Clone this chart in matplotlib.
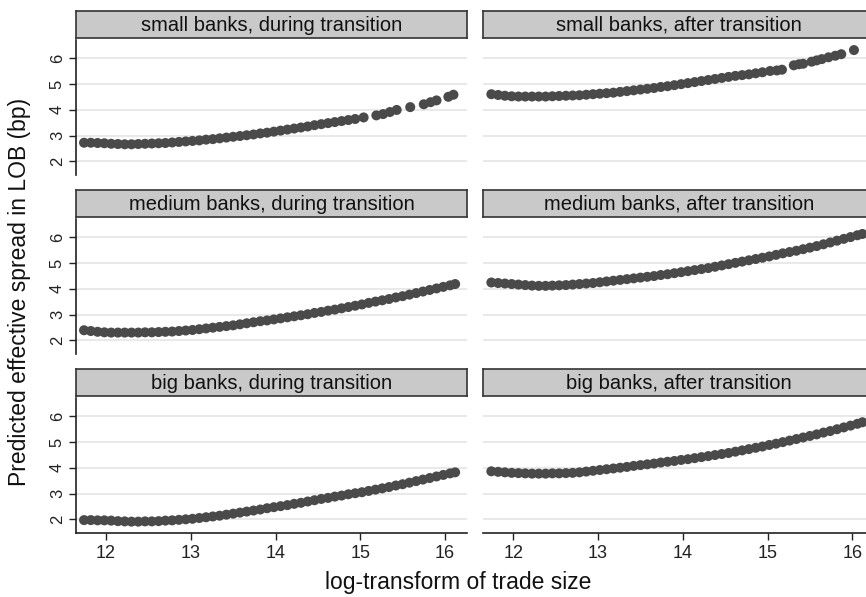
import numpy as np
import matplotlib.pyplot as plt

plt.rcParams['font.family'] = ['Liberation Sans', 'DejaVu Sans']

W, H = 866, 597

titles = [["small banks, during transition", "small banks, after transition"],
          ["medium banks, during transition", "medium banks, after transition"],
          ["big banks, during transition", "big banks, after transition"]]
y_ticks = [2, 3, 4, 5, 6]
x_ticks = [12, 13, 14, 15, 16]

# log trade size grid shared by the medium / big bank panels
size_dense = [11.74, 11.82, 11.90, 11.98, 12.06, 12.14, 12.22, 12.30, 12.38, 12.46,
              12.54, 12.62, 12.70, 12.78, 12.86, 12.94, 13.02, 13.10, 13.18, 13.26,
              13.34, 13.42, 13.50, 13.58, 13.66, 13.74, 13.82, 13.90, 13.98, 14.06,
              14.14, 14.22, 14.30, 14.38, 14.46, 14.54, 14.62, 14.70, 14.78, 14.86,
              14.94, 15.02, 15.10, 15.18, 15.26, 15.34, 15.42, 15.50, 15.58, 15.66,
              15.74, 15.82, 15.90, 15.98, 16.06, 16.12]

medium_during = [2.39, 2.36, 2.33, 2.31, 2.30, 2.30, 2.30, 2.30, 2.30, 2.31,
                 2.31, 2.32, 2.33, 2.34, 2.36, 2.38, 2.40, 2.43, 2.46, 2.49,
                 2.52, 2.55, 2.58, 2.62, 2.66, 2.70, 2.74, 2.77, 2.81, 2.85,
                 2.89, 2.93, 2.97, 3.01, 3.06, 3.10, 3.15, 3.19, 3.24, 3.29,
                 3.34, 3.39, 3.45, 3.50, 3.55, 3.60, 3.66, 3.71, 3.77, 3.83,
                 3.89, 3.95, 4.01, 4.07, 4.13, 4.18]
medium_after = [4.24, 4.22, 4.20, 4.18, 4.16, 4.14, 4.12, 4.11, 4.11, 4.12,
                4.13, 4.14, 4.16, 4.18, 4.20, 4.22, 4.25, 4.28, 4.31, 4.34,
                4.37, 4.40, 4.43, 4.46, 4.49, 4.53, 4.56, 4.60, 4.64, 4.68,
                4.72, 4.76, 4.80, 4.85, 4.90, 4.95, 5.00, 5.05, 5.10, 5.15,
                5.20, 5.25, 5.31, 5.37, 5.42, 5.47, 5.53, 5.59, 5.65, 5.72,
                5.79, 5.86, 5.93, 6.00, 6.07, 6.12]
big_during = [1.97, 1.97, 1.96, 1.96, 1.95, 1.93, 1.92, 1.91, 1.91, 1.92,
              1.92, 1.93, 1.95, 1.96, 1.98, 2.00, 2.02, 2.05, 2.08, 2.11,
              2.14, 2.18, 2.22, 2.26, 2.30, 2.34, 2.38, 2.43, 2.47, 2.51,
              2.55, 2.60, 2.64, 2.69, 2.74, 2.79, 2.83, 2.88, 2.92, 2.97,
              3.01, 3.05, 3.10, 3.15, 3.20, 3.25, 3.31, 3.36, 3.42, 3.48,
              3.54, 3.60, 3.66, 3.72, 3.78, 3.82]
big_after = [3.86, 3.84, 3.82, 3.80, 3.79, 3.78, 3.77, 3.77, 3.77, 3.78,
             3.78, 3.79, 3.80, 3.82, 3.85, 3.88, 3.91, 3.94, 3.97, 4.00,
             4.03, 4.07, 4.10, 4.13, 4.16, 4.20, 4.23, 4.26, 4.30, 4.33,
             4.37, 4.41, 4.45, 4.49, 4.53, 4.57, 4.62, 4.67, 4.72, 4.77,
             4.82, 4.88, 4.93, 4.99, 5.05, 5.11, 5.17, 5.23, 5.29, 5.36,
             5.42, 5.49, 5.56, 5.63, 5.70, 5.76]

# small banks have fewer large trades, so the right end is sparse
small_during_x = [11.74, 11.82, 11.90, 11.98, 12.06, 12.14, 12.22, 12.30, 12.38, 12.46,
                  12.54, 12.62, 12.70, 12.78, 12.86, 12.94, 13.02, 13.10, 13.18, 13.26,
                  13.34, 13.42, 13.50, 13.58, 13.66, 13.74, 13.82, 13.90, 13.98, 14.06,
                  14.14, 14.22, 14.30, 14.38, 14.46, 14.54, 14.62, 14.70, 14.78, 14.86,
                  14.94, 15.04, 15.19, 15.27, 15.35, 15.43, 15.59, 15.75, 15.83, 15.90,
                  16.04, 16.10]
small_during_y = [2.72, 2.72, 2.71, 2.70, 2.68, 2.67, 2.66, 2.66, 2.67, 2.68,
                  2.69, 2.70, 2.71, 2.73, 2.75, 2.77, 2.79, 2.81, 2.84, 2.86,
                  2.89, 2.92, 2.95, 2.98, 3.01, 3.04, 3.08, 3.11, 3.15, 3.19,
                  3.23, 3.27, 3.31, 3.35, 3.40, 3.44, 3.48, 3.52, 3.56, 3.60,
                  3.64, 3.70, 3.78, 3.83, 3.91, 3.99, 4.10, 4.21, 4.29, 4.36,
                  4.50, 4.58]
small_after_x = [11.74, 11.82, 11.90, 11.98, 12.06, 12.14, 12.22, 12.30, 12.38, 12.46,
                 12.54, 12.62, 12.70, 12.78, 12.86, 12.94, 13.02, 13.10, 13.18, 13.26,
                 13.34, 13.42, 13.50, 13.58, 13.66, 13.74, 13.82, 13.90, 13.98, 14.06,
                 14.14, 14.22, 14.30, 14.38, 14.46, 14.54, 14.62, 14.70, 14.78, 14.86,
                 14.94, 15.03, 15.11, 15.17, 15.31, 15.37, 15.42, 15.52, 15.58, 15.64,
                 15.72, 15.80, 15.87, 16.02]
small_after_y = [4.60, 4.57, 4.54, 4.52, 4.51, 4.51, 4.51, 4.51, 4.51, 4.52,
                 4.53, 4.54, 4.55, 4.56, 4.58, 4.60, 4.62, 4.64, 4.66, 4.69,
                 4.72, 4.75, 4.78, 4.81, 4.84, 4.88, 4.91, 4.95, 4.99, 5.03,
                 5.07, 5.11, 5.15, 5.19, 5.23, 5.27, 5.31, 5.34, 5.37, 5.41,
                 5.45, 5.50, 5.52, 5.55, 5.72, 5.76, 5.78, 5.86, 5.91, 5.96,
                 6.03, 6.09, 6.15, 6.31]

series = [[(small_during_x, small_during_y), (small_after_x, small_after_y)],
          [(size_dense, medium_during), (size_dense, medium_after)],
          [(size_dense, big_during), (size_dense, big_after)]]


def box(x0, y0, w, h):
    # pixel box (top-left origin) -> figure fraction
    return [x0 / W, 1 - (y0 + h) / H, w / W, h / H]


fig = plt.figure(figsize=(W / 100, H / 100), dpi=100)
fig.patch.set_facecolor('white')

col_left = [76, 483.3]
panel_w = 391
row_top = [40, 219, 398]
panel_h = 135

for r in range(3):
    for c in range(2):
        ax = fig.add_axes(box(col_left[c], row_top[r], panel_w, panel_h))
        xs, ys = series[r][c]
        ax.scatter(xs, ys, s=52, color='#4a4a4a', edgecolors='none', zorder=3)
        ax.set_xlim(11.645, 16.26)
        ax.set_ylim(1.47, 6.7)
        ax.set_yticks(y_ticks)
        ax.set_xticks(x_ticks)
        ax.grid(axis='y', color='#e3e3e3', linewidth=1.1)
        ax.grid(axis='x', visible=False)
        ax.set_axisbelow(True)
        for s in ['top', 'right']:
            ax.spines[s].set_visible(False)
        ax.spines['left'].set_visible(c == 0)
        ax.spines['bottom'].set_visible(r == 2)
        ax.spines['left'].set_color('#222222')
        ax.spines['bottom'].set_color('#222222')
        ax.spines['left'].set_linewidth(1.2)
        ax.spines['bottom'].set_linewidth(1.2)
        ax.tick_params(axis='y', left=(c == 0), labelleft=(c == 0), length=5,
                       width=1, color='#222222', labelsize=12, pad=3,
                       labelcolor='#222222')
        ax.tick_params(axis='x', bottom=(r == 2), labelbottom=(r == 2), length=5,
                       width=1, color='#222222', labelsize=13, pad=4,
                       labelcolor='#222222')
        for lab in ax.get_yticklabels():
            lab.set_rotation(90)
            lab.set_va('center')

        # facet strip
        strip = fig.add_axes(box(col_left[c], row_top[r] - 29, panel_w, 27))
        strip.set_facecolor('#c9c9c9')
        strip.set_xticks([])
        strip.set_yticks([])
        for s in strip.spines.values():
            s.set_color('#333333')
            s.set_linewidth(1.2)
        strip.text(0.5, 0.47, titles[r][c], ha='center', va='center',
                   fontsize=14.5, color='#111111', transform=strip.transAxes)

fig.text(20 / W, 1 - 292 / H, 'Predicted effective spread in LOB (bp)',
         rotation=90, ha='center', va='center', fontsize=16.5, color='#111111')
fig.text(458 / W, 1 - 582 / H, 'log-transform of trade size',
         ha='center', va='center', fontsize=16.5, color='#111111')

fig.savefig('out.png', dpi=100)
